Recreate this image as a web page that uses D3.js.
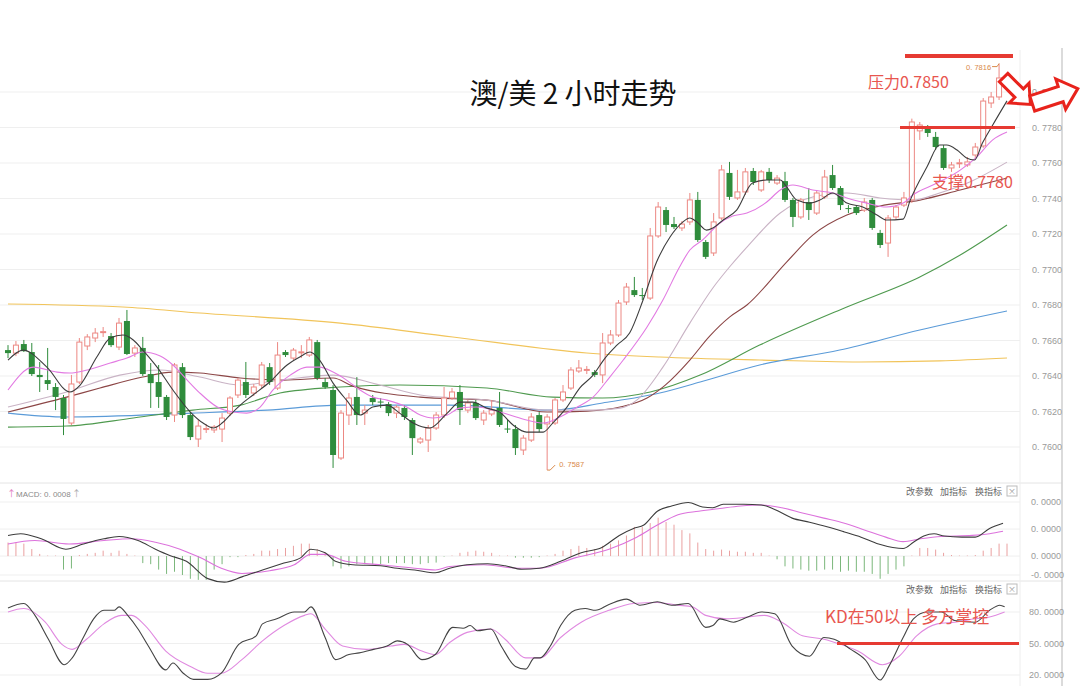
<!DOCTYPE html>
<html><head><meta charset="utf-8">
<script src="https://cdn.jsdelivr.net/npm/d3@7/dist/d3.min.js"></script>
<style>
html,body{margin:0;padding:0;background:#fff;}
svg{display:block;}
text{font-family:"Noto Sans CJK SC","Noto Sans",sans-serif;}
</style></head><body>
<svg id="chart" width="1082" height="686"></svg>
<script>
// ---------- DATA ----------
const openP = [0.76546,0.76529,0.76580,0.76535,0.76406,0.76377,0.76338,0.76276,0.76135,0.76366,
0.76569,0.76614,0.76647,0.76625,0.76563,0.76710,0.76529,0.76558,0.76411,0.76366,
0.76282,0.76180,0.76450,0.76180,0.76045,0.76101,0.76096,0.76101,0.76191,0.76293,
0.76366,0.76304,0.76349,0.76450,0.76332,0.76535,0.76501,0.76533,0.76518,0.76591,
0.76366,0.76321,0.75938,0.76180,0.76282,0.76191,0.76276,0.76256,0.76242,0.76191,
0.76220,0.76152,0.76028,0.76039,0.76107,0.76180,0.76276,0.76310,0.76208,0.76248,
0.76152,0.76186,0.76220,0.76104,0.76101,0.75983,0.76039,0.76180,0.76130,0.76135,
0.76265,0.76332,0.76428,0.76434,0.76422,0.76406,0.76586,0.76631,0.76817,0.76884,
0.76856,0.76839,0.77189,0.77335,0.77256,0.77234,0.77268,0.77392,0.77155,0.77093,
0.77290,0.77544,0.77403,0.77437,0.77555,0.77448,0.77550,0.77487,0.77498,0.77392,
0.77296,0.77380,0.77318,0.77409,0.77532,0.77459,0.77346,0.77352,0.77335,0.77392,
0.77206,0.77149,0.77296,0.77363,0.77392,0.77781,0.77797,0.77747,0.77684,0.77572,
0.77598,0.77589,0.77645,0.77696,0.77938,0.77972,0.78079];
const highP = [0.76574,0.76597,0.76603,0.76586,0.76479,0.76558,0.76360,0.76293,0.76406,0.76614,
0.76636,0.76670,0.76676,0.76642,0.76727,0.76772,0.76574,0.76620,0.76473,0.76462,
0.76293,0.76473,0.76473,0.76197,0.76152,0.76129,0.76124,0.76191,0.76287,0.76389,
0.76479,0.76355,0.76479,0.76473,0.76591,0.76546,0.76558,0.76574,0.76620,0.76603,
0.76389,0.76349,0.76208,0.76304,0.76394,0.76236,0.76293,0.76276,0.76253,0.76236,
0.76236,0.76163,0.76056,0.76124,0.76197,0.76338,0.76332,0.76349,0.76265,0.76265,
0.76208,0.76265,0.76310,0.76152,0.76124,0.76067,0.76191,0.76197,0.76185,0.76276,
0.76349,0.76450,0.76490,0.76456,0.76434,0.76642,0.76659,0.76828,0.76924,0.76958,
0.76896,0.77234,0.77380,0.77352,0.77296,0.77273,0.77431,0.77437,0.77166,0.77318,
0.77589,0.77606,0.77561,0.77572,0.77572,0.77561,0.77572,0.77532,0.77550,0.77403,
0.77403,0.77459,0.77448,0.77561,0.77589,0.77470,0.77363,0.77363,0.77403,0.77403,
0.77223,0.77307,0.77363,0.77437,0.77850,0.77831,0.77814,0.77775,0.77701,0.77606,
0.77623,0.77634,0.77713,0.77966,0.78000,0.78160,0.78090];
const lowP = [0.76501,0.76512,0.76535,0.76400,0.76310,0.76321,0.76208,0.76067,0.76124,0.76355,
0.76546,0.76591,0.76620,0.76563,0.76546,0.76518,0.76507,0.76400,0.76220,0.76220,
0.76152,0.76141,0.76163,0.76039,0.76000,0.76079,0.76079,0.76028,0.76174,0.76276,
0.76276,0.76287,0.76332,0.76349,0.76321,0.76507,0.76490,0.76501,0.76507,0.76377,
0.76327,0.75882,0.75927,0.76124,0.76124,0.76124,0.76236,0.76220,0.76174,0.76163,
0.76152,0.75955,0.76017,0.75972,0.76096,0.76163,0.76265,0.76124,0.76191,0.76152,
0.76124,0.76174,0.76113,0.76079,0.75955,0.75955,0.76028,0.76084,0.75870,0.76124,
0.76253,0.76321,0.76417,0.76411,0.76394,0.76360,0.76574,0.76620,0.76800,0.76845,
0.76828,0.76828,0.77178,0.77211,0.77228,0.77217,0.77251,0.77155,0.77059,0.77076,
0.77279,0.77392,0.77392,0.77420,0.77476,0.77437,0.77487,0.77476,0.77380,0.77239,
0.77284,0.77279,0.77307,0.77397,0.77448,0.77335,0.77318,0.77307,0.77324,0.77223,
0.77121,0.77071,0.77279,0.77352,0.77375,0.77730,0.77747,0.77673,0.77561,0.77550,
0.77572,0.77578,0.77628,0.77685,0.77910,0.77955,0.78017];
const closeP = [0.76529,0.76574,0.76540,0.76411,0.76394,0.76355,0.76282,0.76158,0.76355,0.76591,
0.76620,0.76642,0.76650,0.76574,0.76698,0.76524,0.76558,0.76411,0.76360,0.76282,
0.76169,0.76462,0.76180,0.76056,0.76118,0.76104,0.76113,0.76163,0.76276,0.76377,
0.76293,0.76338,0.76462,0.76366,0.76518,0.76518,0.76546,0.76536,0.76603,0.76389,
0.76338,0.75955,0.76191,0.76276,0.76180,0.76208,0.76253,0.76253,0.76191,0.76225,
0.76169,0.76050,0.76045,0.76107,0.76180,0.76276,0.76310,0.76208,0.76248,0.76163,
0.76191,0.76208,0.76124,0.76101,0.75994,0.76050,0.76169,0.76101,0.76169,0.76265,
0.76310,0.76434,0.76445,0.76437,0.76406,0.76586,0.76631,0.76811,0.76901,0.76856,
0.76853,0.77189,0.77352,0.77251,0.77239,0.77256,0.77392,0.77166,0.77071,0.77268,
0.77561,0.77409,0.77437,0.77550,0.77493,0.77550,0.77504,0.77515,0.77392,0.77296,
0.77392,0.77335,0.77431,0.77521,0.77459,0.77363,0.77343,0.77318,0.77380,0.77234,
0.77138,0.77290,0.77352,0.77403,0.77831,0.77814,0.77769,0.77690,0.77572,0.77589,
0.77601,0.77606,0.77690,0.77949,0.77972,0.78079,0.78039];

// moving averages: [bar index, price]
const ma5 = [[0,0.76490],[1.9,0.76546],[4.9,0.76450],[7.8,0.76310],[9.1,0.76349],[11.2,0.76507],[12.9,0.76614],[14.5,0.76631],[15.8,0.76603],[17.0,0.76546],[18.8,0.76450],[20.8,0.76321],[23.0,0.76197],[24.6,0.76135],[25.9,0.76107],[27.0,0.76135],[28.0,0.76180],[29.3,0.76236],[30.9,0.76293],[33.0,0.76366],[35.2,0.76462],[36.8,0.76507],[38.1,0.76535],[39.3,0.76490],[41.0,0.76360],[42.7,0.76264],[44.4,0.76180],[46.0,0.76225],[47.8,0.76236],[49.4,0.76191],[51.1,0.76135],[53.2,0.76107],[55.4,0.76191],[57.0,0.76253],[58.6,0.76253],[60.4,0.76219],[62.0,0.76197],[63.7,0.76124],[65.4,0.76084],[67.5,0.76084],[68.7,0.76135],[70.5,0.76225],[72.1,0.76332],[73.8,0.76405],[75.3,0.76501],[76.8,0.76574],[78.4,0.76642],[80.1,0.76828],[81.8,0.77042],[83.5,0.77183],[85.1,0.77267],[86.0,0.77290],[86.9,0.77267],[88.1,0.77222],[88.9,0.77234],[90.2,0.77279],[91.9,0.77335],[93.9,0.77487],[95.7,0.77504],[97.4,0.77504],[98.2,0.77465],[99.5,0.77391],[101.1,0.77374],[102.4,0.77391],[104.0,0.77431],[105.8,0.77374],[107.8,0.77352],[109.6,0.77307],[110.8,0.77279],[112.9,0.77284],[113.8,0.77391],[115.9,0.77577],[117.5,0.77701],[118.4,0.77701],[119.7,0.77673],[120.9,0.77628],[121.9,0.77617],[122.9,0.77712],[124.2,0.77814],[126,0.77950]];
const ma10 = [[0,0.76321],[3.2,0.76450],[6.2,0.76422],[7.8,0.76417],[10.0,0.76434],[12.9,0.76473],[15.0,0.76501],[17.0,0.76535],[19.2,0.76512],[20.8,0.76462],[22.6,0.76377],[24.2,0.76304],[26.4,0.76225],[28.4,0.76197],[30.1,0.76191],[31.8,0.76225],[33.4,0.76321],[35.6,0.76405],[37.7,0.76450],[39.3,0.76450],[41.0,0.76422],[42.7,0.76377],[44.4,0.76321],[46.0,0.76281],[47.8,0.76264],[50.3,0.76225],[52.0,0.76180],[53.6,0.76163],[55.4,0.76180],[57.0,0.76219],[59.1,0.76225],[61.2,0.76208],[63.3,0.76180],[65.4,0.76152],[67.5,0.76135],[69.6,0.76169],[71.8,0.76225],[73.8,0.76281],[75.9,0.76394],[77.6,0.76490],[80.6,0.76676],[82.6,0.76828],[84.7,0.77014],[86.0,0.77110],[87.6,0.77166],[89.8,0.77262],[91.4,0.77301],[93.2,0.77318],[95.7,0.77380],[97.4,0.77448],[99.0,0.77476],[101.5,0.77448],[104.0,0.77431],[105.8,0.77403],[108.3,0.77374],[110.8,0.77352],[112.9,0.77374],[114.1,0.77419],[117.2,0.77487],[120.1,0.77560],[122.2,0.77634],[124.2,0.77730],[126,0.77774]];
const ma20 = [[0,0.76225],[7.4,0.76310],[14.1,0.76405],[19.2,0.76434],[24.2,0.76394],[29.3,0.76349],[34.3,0.76377],[41.0,0.76405],[46.9,0.76349],[52.0,0.76293],[60.4,0.76264],[68.0,0.76208],[73.8,0.76208],[77.2,0.76219],[79.3,0.76264],[82.6,0.76450],[86.0,0.76698],[88.9,0.76896],[91.0,0.77014],[93.2,0.77126],[97.4,0.77318],[101.5,0.77408],[105.8,0.77431],[110.0,0.77403],[114.1,0.77391],[117.5,0.77431],[121.3,0.77493],[126,0.77605]];
const ma30 = [[0,0.76197],[7.4,0.76281],[11.6,0.76332],[17.0,0.76394],[20.8,0.76422],[24.2,0.76417],[29.3,0.76389],[34.7,0.76377],[41.0,0.76389],[43.5,0.76343],[52.0,0.76281],[60.4,0.76264],[68.0,0.76197],[73.0,0.76202],[77.2,0.76225],[80.6,0.76276],[82.9,0.76349],[86.0,0.76490],[88.5,0.76625],[91.0,0.76732],[93.2,0.76800],[98.2,0.77042],[101.5,0.77194],[105.8,0.77307],[110.0,0.77358],[115.0,0.77391],[120.1,0.77448],[126,0.77515]];
const ma60 = [[0,0.76112],[7.4,0.76118],[15.8,0.76163],[23.3,0.76208],[29.3,0.76236],[34.3,0.76304],[41.9,0.76338],[49.4,0.76349],[60.4,0.76332],[68.7,0.76281],[75.0,0.76276],[81.0,0.76310],[87.3,0.76405],[94.8,0.76574],[105.8,0.76789],[115.0,0.76958],[120.1,0.77082],[126,0.77251]];
const ma120 = [[0,0.76191],[7.4,0.76169],[23.3,0.76191],[32.7,0.76208],[41.9,0.76236],[55.7,0.76236],[68.7,0.76208],[75.0,0.76248],[82.2,0.76304],[87.3,0.76366],[94.8,0.76462],[104.9,0.76546],[115.0,0.76659],[126,0.76766]];
const ma250 = [[0,0.76806],[14.5,0.76789],[24.2,0.76755],[41.9,0.76698],[56.1,0.76620],[73.0,0.76530],[82.2,0.76507],[94.8,0.76490],[107.4,0.76479],[117.5,0.76485],[126,0.76501]];

// MACD (units of 1e-5), histogram per bar, DIF / DEA read as [bar index, value]
const macdHist = [25,25,23,13,4,1,1,-25,-23,2,
4,6,10,6,10,4,1,-13,-15,-25,
-33,-29,-35,-42,-44,-44,-25,-15,-2,-2,
2,4,10,10,13,15,19,23,23,13,
6,-19,-23,-19,-15,-15,-15,-15,-13,-13,
-13,-15,-15,-13,-12,-1,1,6,8,10,
8,6,1,1,-3,-3,-3,-2,1,4,
10,13,19,15,13,19,23,29,38,54,
54,61,71,63,58,48,42,25,13,10,
12,10,8,8,6,6,1,-6,-19,-23,
-25,-27,-27,-25,-25,-29,-27,-29,-29,-33,
-42,-33,-25,-19,1,15,15,12,6,2,
1,1,2,10,15,23,23];
const macdDif = [[0,38.2],[1.6,41.4],[4.2,31.9],[7.3,12.7],[9.5,22.3],[12.1,31.9],[14.0,36.3],[16.4,28.7],[18.6,12.7],[20.4,1.1],[22.5,-9.7],[25.2,-41.7],[27.3,-48.1],[29.5,-38.5],[32.1,-25.7],[34.8,-12.9],[36.9,-3.3],[38.2,12.7],[40.0,6.3],[41.3,-9.7],[43.5,-16.1],[47.0,-18.0],[49.1,-22.5],[51.3,-25.7],[53.9,-30.8],[55.7,-22.5],[57.9,-16.1],[60.5,-14.2],[62.7,-18.0],[64.8,-24.4],[67.0,-22.5],[69.7,-9.7],[72.3,6.3],[74.9,15.9],[77.1,38.2],[78.9,51.0],[80.2,57.4],[81.9,83.0],[83.7,92.6],[85.8,99.0],[87.6,90.7],[88.9,89.4],[90.2,95.8],[92.8,95.8],[95.0,94.5],[96.7,86.2],[98.9,70.2],[101.1,62.6],[103.3,54.2],[105.5,44.6],[107.6,35.0],[109.8,22.3],[111.6,15.9],[112.9,14.0],[114.2,25.5],[115.5,37.0],[116.8,41.4],[118.1,37.0],[120.3,35.0],[122.0,35.0],[123.8,51.0],[125.5,60.6]];
const macdDea = [[0,22.3],[3.4,28.7],[7.7,22.3],[12.1,28.7],[15.6,31.9],[18.6,25.5],[21.7,12.7],[24.3,-3.3],[26.9,-22.5],[29.5,-32.1],[33.0,-27.0],[36.1,-16.1],[38.2,3.1],[40.0,3.1],[42.6,-9.7],[47.0,-16.1],[51.3,-22.5],[53.9,-25.7],[55.7,-19.3],[60.0,-16.1],[64.4,-22.5],[67.1,-22.5],[71.5,-3.3],[75.8,12.7],[79.3,35.0],[81.9,57.4],[84.5,76.6],[87.1,83.0],[89.8,88.1],[92.4,92.6],[95.0,94.5],[97.6,89.4],[100.2,79.8],[102.9,70.2],[105.5,60.6],[108.1,47.8],[110.7,35.0],[112.9,26.7],[115.1,31.9],[117.7,36.3],[121.6,38.2],[123.8,41.4],[125.5,45.9]];
// KD read as [bar index, value]
const kdK = [[0,83.9],[2.0,88.1],[3.4,76.8],[5.1,54.1],[7.1,29.8],[8.1,36.3],[9.5,55.7],[10.8,73.5],[12.1,81.6],[13.4,81.6],[14.0,84.9],[15.1,76.8],[16.4,63.8],[17.7,47.6],[19.9,24.9],[20.8,31.4],[22.1,21.7],[23.4,15.8],[25.2,15.8],[26.9,21.7],[29.1,49.2],[31.3,57.3],[32.1,68.7],[33.9,73.5],[36.1,80.0],[37.4,80.0],[38.2,84.9],[40.0,55.7],[41.3,34.6],[43.0,39.5],[44.3,41.1],[46.1,44.4],[47.8,47.6],[49.1,52.5],[50.4,49.2],[52.2,34.6],[53.9,39.5],[56.1,65.4],[57.4,64.5],[58.3,67.1],[59.2,62.2],[60.9,63.8],[62.2,47.6],[64.0,28.2],[65.3,25.6],[66.4,36.3],[67.1,36.3],[68.4,47.6],[69.7,67.1],[71.5,81.6],[72.8,83.3],[74.1,81.6],[75.8,87.1],[78.0,92.3],[79.7,86.5],[81.9,89.7],[83.7,86.5],[85.8,88.1],[88.0,65.4],[88.9,67.1],[89.8,73.5],[91.5,70.3],[93.3,75.2],[95.0,80.0],[96.7,78.4],[98.9,47.6],[101.1,37.9],[102.9,55.7],[104.2,54.1],[106.3,44.4],[108.1,34.6],[110.0,15.2],[111.1,28.2],[112.9,55.7],[114.2,73.5],[115.9,80.0],[117.7,80.0],[119.4,71.9],[122.0,70.3],[123.8,81.6],[125.1,86.5],[125.7,84.9]];
const kdD = [[0,80.0],[2.0,83.3],[4.7,70.3],[6.8,49.2],[8.1,44.4],[9.9,54.1],[12.1,68.7],[14.3,76.8],[15.6,76.8],[17.3,67.1],[19.9,42.8],[23.0,28.2],[25.2,21.7],[26.9,21.7],[29.5,34.6],[32.1,52.5],[34.8,67.1],[37.4,76.8],[38.2,78.4],[40.0,63.8],[42.2,47.6],[45.2,44.4],[48.3,47.6],[50.0,49.2],[52.2,42.8],[53.9,39.5],[55.7,50.9],[57.9,60.6],[60.9,63.8],[62.7,54.1],[65.3,36.3],[67.1,36.3],[69.7,55.7],[72.3,70.3],[75.8,81.6],[78.9,88.1],[81.9,89.1],[84.5,86.5],[86.3,84.9],[88.0,76.8],[90.6,73.5],[93.3,75.2],[95.4,76.8],[97.6,70.3],[100.2,57.3],[102.9,54.1],[105.0,49.2],[107.2,42.8],[110.3,29.8],[112.4,37.9],[114.6,57.3],[117.2,68.7],[119.4,70.3],[122.0,73.5],[123.8,75.2],[125.7,80.0]];

// tick labels
const priceTicks = [0.7800,0.7780,0.7760,0.7740,0.7720,0.7700,0.7680,0.7660,0.7640,0.7620,0.7600];
const priceTickLabels = ["0. 7800","0. 7780","0. 7760","0. 7740","0. 7720","0. 7700","0. 7680","0. 7660","0. 7640","0. 7620","0. 7600"];
const macdTicks = [100,50,0,-35];
const macdTickLabels = ["0. 0000","0. 0000","0. 0000","-0. 0000"];
const kdTicks = [80,50,20];
const kdTickLabels = ["80. 0000","50. 0000","20. 0000"];

// ---------- SCALES ----------
const svg = d3.select('#chart');
const x = d3.scaleLinear().domain([0,126]).range([8,1007]);
const y = d3.scaleLinear().domain([0.76,0.78]).range([447,92]);
const yM = d3.scaleLinear().domain([-35,100]).range([575,502]);
const yK = d3.scaleLinear().domain([20,80]).range([675,612]);

const GRID = '#efefef';
svg.append('g').selectAll('line').data(priceTicks).join('line')
  .attr('x1',0).attr('x2',1020).attr('y1',d=>y(d)).attr('y2',d=>y(d)).attr('stroke',GRID);
svg.append('g').selectAll('line').data(macdTicks).join('line')
  .attr('x1',0).attr('x2',1020).attr('y1',d=>yM(d)).attr('y2',d=>yM(d)).attr('stroke',GRID);
svg.append('g').selectAll('line').data(kdTicks).join('line')
  .attr('x1',0).attr('x2',1020).attr('y1',d=>yK(d)).attr('y2',d=>yK(d)).attr('stroke',GRID);
[483,581].forEach(v=>svg.append('line').attr('x1',0).attr('x2',1062).attr('y1',v).attr('y2',v).attr('stroke','#e4e4e4'));
svg.append('line').attr('x1',1020).attr('x2',1020).attr('y1',50).attr('y2',686).attr('stroke','#eeeeee');
svg.append('line').attr('x1',1062).attr('x2',1062).attr('y1',48).attr('y2',686).attr('stroke','#cfcfcf').attr('stroke-width',1.5);

function rightAxis(scale, ticks, labels, tx){
  const g = svg.append('g').attr('transform',`translate(${tx},0)`)
    .call(d3.axisRight(scale).tickValues(ticks).tickFormat((d,i)=>labels[i]).tickSize(0).tickPadding(0));
  g.select('.domain').remove();
  g.selectAll('text').attr('fill','#9a9a9a').attr('font-size',9)
    .style('font-family','"Liberation Sans",Arial,sans-serif');
}
rightAxis(y, priceTicks, priceTickLabels, 1032);
rightAxis(yM, macdTicks, macdTickLabels, 1031);
rightAxis(yK, kdTicks, kdTickLabels, 1029);

// ---------- MOVING AVERAGES ----------
const line = d3.line().x(d=>x(d[0])).y(d=>y(d[1])).curve(d3.curveMonotoneX);
[[ma250,'#f1c45a'],[ma120,'#5b9bd8'],[ma60,'#4f9a4f'],[ma30,'#8c4646'],[ma20,'#c9b3c5']]
  .forEach(([d,c])=>svg.append('path').datum(d).attr('d',line).attr('fill','none').attr('stroke',c).attr('stroke-width',1.1));

// ---------- CANDLES ----------
const UP='#ec8883', DN='#2f8c3c';
const cg = svg.append('g');
d3.range(openP.length).forEach(i=>{
  const o=openP[i], c=closeP[i], h=highP[i], l=lowP[i];
  const up = c>=o, col = up?UP:DN;
  const top = y(Math.max(o,c)), bot = y(Math.min(o,c));
  const bh = Math.max(1, bot-top), cx = x(i);
  if(up){
    cg.append('line').attr('x1',cx).attr('x2',cx).attr('y1',y(h)).attr('y2',top).attr('stroke',col);
    cg.append('line').attr('x1',cx).attr('x2',cx).attr('y1',top+bh).attr('y2',y(l)).attr('stroke',col);
    cg.append('rect').attr('x',cx-2.5).attr('y',top).attr('width',5).attr('height',bh)
      .attr('fill','#fff').attr('stroke',col).attr('stroke-width',1);
  } else {
    cg.append('line').attr('x1',cx).attr('x2',cx).attr('y1',y(h)).attr('y2',y(l)).attr('stroke',col);
    cg.append('rect').attr('x',cx-3).attr('y',top).attr('width',6).attr('height',bh).attr('fill',col);
  }
});
[[ma10,'#e27ae2'],[ma5,'#3d3d3d']].forEach(([d,c])=>svg.append('path').datum(d).attr('d',line).attr('fill','none').attr('stroke',c).attr('stroke-width',1.1));

// ---------- MACD ----------
svg.append('g').selectAll('line').data(macdHist).join('line')
  .attr('x1',(d,i)=>x(i)).attr('x2',(d,i)=>x(i))
  .attr('y1',yM(0)).attr('y2',d=>yM(d))
  .attr('stroke',d=>d>=0?'#eaa0a0':'#7bb77b').attr('stroke-width',1);
const lineM = d3.line().x(d=>x(d[0])).y(d=>yM(d[1])).curve(d3.curveMonotoneX);
svg.append('path').datum(macdDea).attr('d',lineM).attr('fill','none').attr('stroke','#dc72dc').attr('stroke-width',1.1);
svg.append('path').datum(macdDif).attr('d',lineM).attr('fill','none').attr('stroke','#3d3d3d').attr('stroke-width',1.1);

// ---------- KD ----------
const lineK = d3.line().x(d=>x(d[0])).y(d=>yK(d[1])).curve(d3.curveMonotoneX);
svg.append('path').datum(kdD).attr('d',lineK).attr('fill','none').attr('stroke','#e08ae0').attr('stroke-width',1.1);
svg.append('path').datum(kdK).attr('d',lineK).attr('fill','none').attr('stroke','#444').attr('stroke-width',1.1);

// ---------- PANEL HEADERS ----------
svg.append('text').attr('x',7).attr('y',497).attr('font-size',9).attr('fill','#e07ac0').text('↑');
svg.append('text').attr('x',16).attr('y',497).attr('font-size',8).attr('fill','#8a8a8a')
  .style('font-family','"Liberation Sans",Arial,sans-serif').text('MACD: 0. 0008');
svg.append('text').attr('x',72).attr('y',497).attr('font-size',9).attr('fill','#aaa').text('↑');
[495,593].forEach(yy=>{
  const g = svg.append('g');
  g.append('text').attr('x',906).attr('y',yy).attr('font-size',9).attr('fill','#666').text('改参数');
  g.append('text').attr('x',940).attr('y',yy).attr('font-size',9).attr('fill','#666').text('加指标');
  g.append('text').attr('x',975).attr('y',yy).attr('font-size',9).attr('fill','#666').text('换指标');
  g.append('rect').attr('x',1007).attr('y',yy-9).attr('width',10).attr('height',10).attr('fill','#fff').attr('stroke','#bbb');
  g.append('text').attr('x',1012).attr('y',yy-1).attr('text-anchor','middle').attr('font-size',8).attr('fill','#999').text('×');
});

// ---------- TITLE ----------
svg.append('text').attr('x',573).attr('y',104).attr('text-anchor','middle').attr('font-size',28)
  .attr('fill','#111').text('澳/美 2 小时走势');

// ---------- ANNOTATIONS ----------
const RED='#e63a32', TXT='#e8564f';
svg.append('line').attr('x1',905).attr('x2',1013).attr('y1',56).attr('y2',56).attr('stroke',RED).attr('stroke-width',4);
svg.append('line').attr('x1',900).attr('x2',1015).attr('y1',y(0.7780)).attr('y2',y(0.7780)).attr('stroke',RED).attr('stroke-width',3);
svg.append('text').attr('x',868).attr('y',88).attr('font-size',16).attr('fill',TXT).text('压力0.7850');
svg.append('text').attr('x',932).attr('y',188).attr('font-size',16).attr('fill',TXT).text('支撑0.7780');
svg.append('line').attr('x1',837).attr('x2',1019).attr('y1',yK(50)).attr('y2',yK(50)).attr('stroke',RED).attr('stroke-width',3);
svg.append('text').attr('x',825).attr('y',623).attr('font-size',17).attr('fill',TXT).text('KD在50以上  多方掌控');

// high / low markers
const hiI = d3.maxIndex(highP), loI = d3.minIndex(lowP);
svg.append('text').attr('x',x(hiI)-33).attr('y',y(highP[hiI])+6).attr('font-size',7.5).attr('fill','#d98a4a')
  .style('font-family','"Liberation Sans",Arial,sans-serif').text('0. 7816');
svg.append('polyline').attr('points',`${x(hiI)-7},${y(highP[hiI])+3} ${x(hiI)-2},${y(highP[hiI])+3} ${x(hiI)},${y(highP[hiI])}`)
  .attr('fill','none').attr('stroke','#d98a4a');
svg.append('polyline').attr('points',`${x(loI)},${y(lowP[loI])} ${x(loI)+3},${y(lowP[loI])} ${x(loI)+8},${y(lowP[loI])-5}`)
  .attr('fill','none').attr('stroke','#d98a4a');
svg.append('text').attr('x',x(loI)+12).attr('y',y(lowP[loI])-3).attr('font-size',7.5).attr('fill','#d98a4a')
  .style('font-family','"Liberation Sans",Arial,sans-serif').text('0. 7587');

// red hollow arrows
function blockArrow(cx,cy,ang,L,hl,H,h){
  const pts=[[-L/2,-h],[L/2-hl,-h],[L/2-hl,-H],[L/2,0],[L/2-hl,H],[L/2-hl,h],[-L/2,h]];
  svg.append('polygon').attr('points',pts.map(p=>p.join(',')).join(' '))
    .attr('transform',`translate(${cx},${cy}) rotate(${ang})`)
    .attr('fill','#fff').attr('stroke','#e8231c').attr('stroke-width',3).attr('stroke-linejoin','miter');
}
blockArrow(1017,91,45,38,16,14,6);
blockArrow(1055,96,-18,48,18,16,8);
</script></body></html>
